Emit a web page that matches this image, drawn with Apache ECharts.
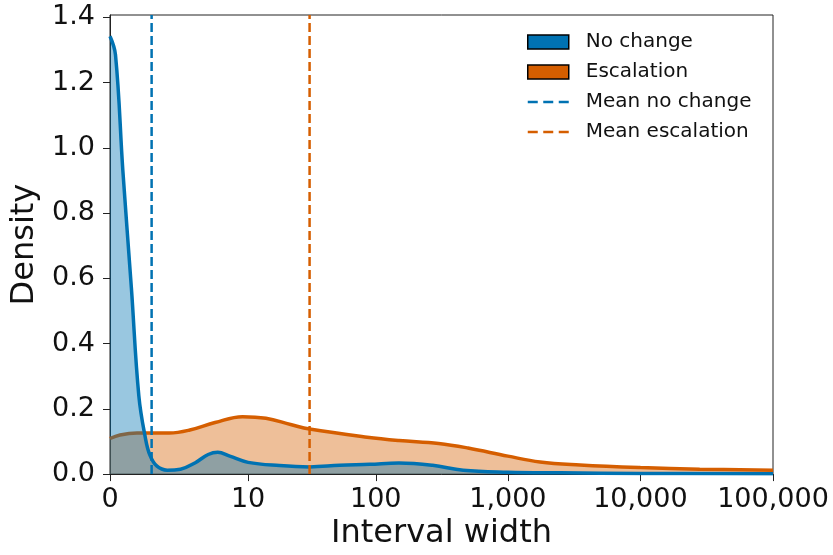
<!DOCTYPE html>
<html>
<head>
<meta charset="utf-8">
<script src="https://cdn.jsdelivr.net/npm/echarts@6/dist/echarts.min.js"></script>
<style>
html, body { margin: 0; padding: 0; background: #fff; }
#chart { width: 833px; height: 555px; }
</style>
</head>
<body>
<div id="chart"></div>
<script>
// interval widths and density
const noChangeWidth = [0, 0.1, 0.25, 0.45, 0.65, 0.85, 1.0, 1.25, 1.7, 2.4, 3.4, 4.5, 5.5, 7, 10, 18, 31, 53, 90, 150, 270, 460, 1000, 2500, 10000, 100000];
const noChangeDensity = [1.342, 1.285, 0.93, 0.57, 0.24, 0.11, 0.058, 0.025, 0.012, 0.015, 0.035, 0.06, 0.067, 0.055, 0.036, 0.026, 0.022, 0.027, 0.03, 0.034, 0.027, 0.012, 0.006, 0.004, 0.002, 0.001];
const escalationWidth = [0, 0.19, 0.6, 1.8, 3, 5.2, 9, 14, 22, 31, 86, 150, 300, 500, 1000, 1750, 3500, 10000, 28000, 100000];
const escalationDensity = [0.109, 0.12, 0.126, 0.126, 0.135, 0.158, 0.176, 0.171, 0.152, 0.138, 0.113, 0.103, 0.094, 0.08, 0.055, 0.037, 0.028, 0.02, 0.015, 0.012];
const meanNoChange = 1.06;
const meanEscalation = 31;

const xTickValues = [0, 10, 100, 1000, 10000, 100000];
const xTickLabels = ['0', '10', '100', '1,000', '10,000', '100,000'];
const yTickValues = [0, 0.2, 0.4, 0.6, 0.8, 1.0, 1.2, 1.4];

const BLUE = '#0072B2';
const ORANGE = '#D55E00';
const FONT = 'DejaVu Sans';

// symlog-like x scale: log10(1 + w)
const tx = w => Math.log10(1 + w);
const xTicks = xTickValues.map(tx);
const xMax = xTicks[xTicks.length - 1];
const yTop = 1.407;

function pairs(xs, ys) {
  return xs.map((w, i) => [tx(w), ys[i]]);
}

const chart = echarts.init(document.getElementById('chart'), null, { renderer: 'canvas' });

const dashIcon = 'path://M0,0h10v2.5h-10z M15.5,0h10v2.5h-10z M31,0h10v2.5h-10z';

const option = {
  backgroundColor: '#ffffff',
  animation: false,
  grid: {
    left: 110, right: 60, top: 15, bottom: 76,
    show: true, borderColor: '#222', borderWidth: 1, backgroundColor: 'transparent'
  },
  legend: {
    orient: 'vertical',
    left: 527, top: 32,
    padding: 0,
    itemWidth: 41, itemHeight: 14, itemGap: 10,
    textStyle: { fontFamily: FONT, fontSize: 20, color: '#111', lineHeight: 20, padding: [0, 0, 0, 12] },
    selectedMode: false,
    data: [
      { name: 'No change', icon: 'rect', itemStyle: { color: BLUE, borderColor: '#000', borderWidth: 1.5, opacity: 1 } },
      { name: 'Escalation', icon: 'rect', itemStyle: { color: ORANGE, borderColor: '#000', borderWidth: 1.5, opacity: 1 } },
      { name: 'Mean no change', icon: dashIcon, itemStyle: { color: BLUE, borderWidth: 0, opacity: 1 } },
      { name: 'Mean escalation', icon: dashIcon, itemStyle: { color: ORANGE, borderWidth: 0, opacity: 1 } }
    ]
  },
  xAxis: {
    type: 'value',
    min: 0, max: xMax,
    name: 'Interval width',
    nameLocation: 'middle',
    nameGap: 42,
    nameTextStyle: { fontFamily: FONT, fontSize: 32, color: '#111' },
    axisLine: { show: true, lineStyle: { color: '#222', width: 1 } },
    axisTick: { show: true, inside: false, length: 7, customValues: xTicks, lineStyle: { color: '#222', width: 1 } },
    axisLabel: {
      customValues: xTicks,
      margin: 12,
      showMaxLabel: true,
      fontFamily: FONT, fontSize: 27, color: '#111',
      formatter: v => {
        const i = xTicks.findIndex(t => Math.abs(t - v) < 1e-6);
        return i >= 0 ? xTickLabels[i] : '';
      }
    },
    splitLine: { show: false }
  },
  yAxis: {
    type: 'value',
    min: 0, max: yTop,
    name: 'Density',
    nameLocation: 'middle',
    nameGap: 68,
    nameTextStyle: { fontFamily: FONT, fontSize: 32, color: '#111' },
    axisLine: { show: true, lineStyle: { color: '#222', width: 1 } },
    axisTick: { show: true, inside: false, length: 7, customValues: yTickValues, lineStyle: { color: '#222', width: 1 } },
    axisLabel: {
      customValues: yTickValues,
      margin: 15,
      fontFamily: FONT, fontSize: 27, color: '#111',
      formatter: v => v.toFixed(1)
    },
    splitLine: { show: false }
  },
  series: [
    {
      name: 'Escalation',
      type: 'line',
      data: pairs(escalationWidth, escalationDensity),
      smooth: 0.4,
      showSymbol: false,
      symbol: 'none',
      lineStyle: { color: ORANGE, width: 3.5 },
      itemStyle: { color: ORANGE },
      areaStyle: { color: ORANGE, opacity: 0.4 },
      z: 2
    },
    {
      name: 'No change',
      type: 'line',
      data: pairs(noChangeWidth, noChangeDensity),
      smooth: 0.4,
      showSymbol: false,
      symbol: 'none',
      lineStyle: { color: BLUE, width: 3.5 },
      itemStyle: { color: BLUE },
      areaStyle: { color: BLUE, opacity: 0.4 },
      z: 3
    },
    {
      name: 'Mean no change',
      type: 'line',
      data: [[tx(meanNoChange), 0], [tx(meanNoChange), yTop]],
      showSymbol: false,
      symbol: 'none',
      lineStyle: { color: BLUE, width: 2.5, type: [9, 4] },
      itemStyle: { color: BLUE },
      z: 4
    },
    {
      name: 'Mean escalation',
      type: 'line',
      data: [[tx(meanEscalation), 0], [tx(meanEscalation), yTop]],
      showSymbol: false,
      symbol: 'none',
      lineStyle: { color: ORANGE, width: 2.5, type: [9, 4] },
      itemStyle: { color: ORANGE },
      z: 4
    }
  ]
};

chart.setOption(option);
</script>
</body>
</html>
